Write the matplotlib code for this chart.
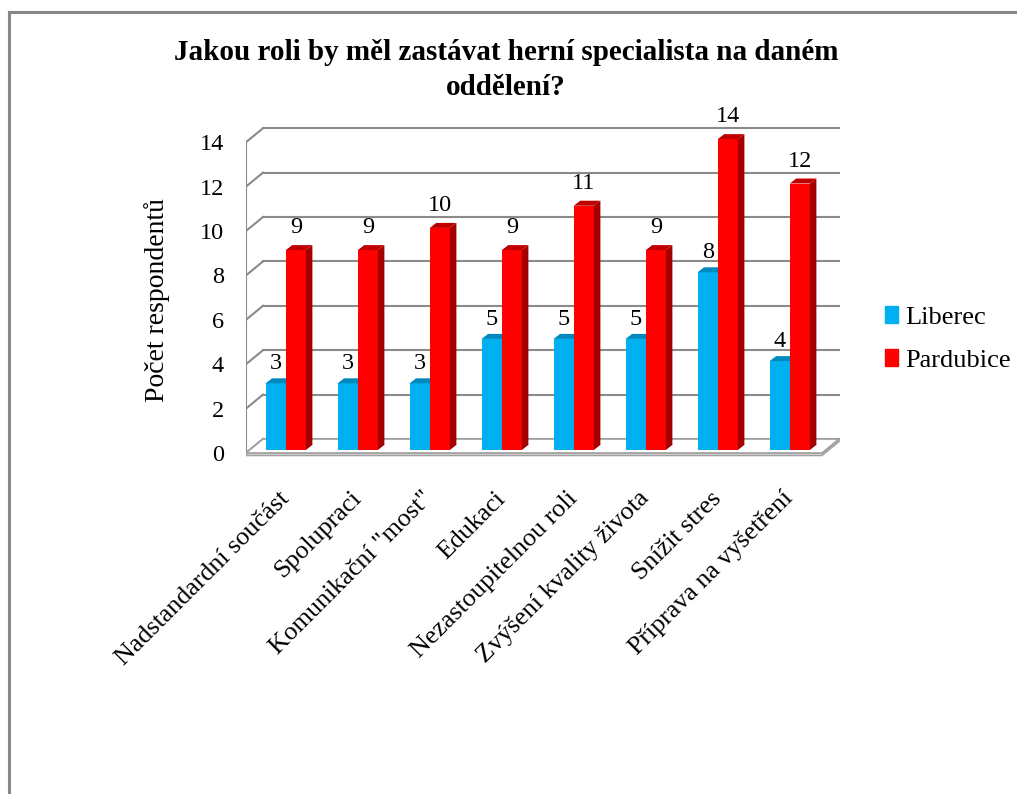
import numpy as np
import matplotlib.pyplot as plt
from matplotlib.patches import Polygon, Patch
from matplotlib.lines import Line2D

categories = ['Nadstandardní součást', 'Spolupraci', 'Komunikační "most"', 'Edukaci',
              'Nezastoupitelnou roli', 'Zvýšení kvality života', 'Snížit stres',
              'Příprava na vyšetření']
liberec = [3, 3, 3, 5, 5, 5, 8, 4]
pardubice = [9, 9, 10, 9, 11, 9, 14, 12]
yticks = [0, 2, 4, 6, 8, 10, 12, 14]

plt.rcParams['font.family'] = ['Liberation Serif', 'DejaVu Serif']

W, H = 1017, 794
fig = plt.figure(figsize=(W / 100, H / 100), dpi=100)

# front plane of the 3d box in pixels
x0_px, unit_x = 246, 72.0
y0_px, unit_y = 453, 22.2
xlim = (0, 8.6)
ylim = (-0.4, 15.4)
ax = fig.add_axes([x0_px / W,
                   (H - (y0_px - ylim[0] * unit_y)) / H,
                   (xlim[1] - xlim[0]) * unit_x / W,
                   (ylim[1] - ylim[0]) * unit_y / H])
ax.set_xlim(xlim)
ax.set_ylim(ylim)
ax.patch.set_visible(False)
for s in ax.spines.values():
    s.set_visible(False)

# depth of the walls and of the bars (data units)
DX, DY = 17 / unit_x, 14 / unit_y
bdx, bdy = 6.5 / unit_x, 5 / unit_y
f = 0.22
n = len(categories)
grid_c = '#8a8a8a'

# back wall gridlines + left wall
for v in yticks:
    ax.plot([0, DX], [v, v + DY], color=grid_c, lw=1.5, zorder=1)
    ax.plot([DX, n + DX], [v + DY, v + DY], color=grid_c, lw=1.5, zorder=1)
ax.plot([0, 0], [0, yticks[-1]], color=grid_c, lw=1.5, zorder=1)

# floor slab
t = 0.11
ax.add_patch(Polygon([(0, -t), (n, -t), (n + DX, DY - t), (n + DX, DY), (n, 0), (0, 0)],
                     closed=True, fc='#ebebeb', ec='#a0a0a0', lw=1.2, zorder=1.5))
ax.add_patch(Polygon([(0, 0), (n, 0), (n + DX, DY), (DX, DY)],
                     closed=True, fc='white', ec='#a0a0a0', lw=1.2, zorder=1.6))

blue, blue_top = '#00B0F0', '#0089BC'
red, red_side, red_top = '#FF0000', '#A50000', '#C00000'

w = 0.28
centers = np.arange(n) + 0.5 + f * DX
base = f * DY

# Liberec bars
ax.bar(centers - w, liberec, width=w, bottom=base, align='edge', color=blue, zorder=3)
for c, v in zip(centers, liberec):
    x, top = c - w, v + base
    ax.add_patch(Polygon([(x, top), (x + w, top), (x + w + bdx, top + bdy), (x + bdx, top + bdy)],
                         closed=True, fc=blue_top, ec='none', zorder=3.1))

# Pardubice bars
ax.bar(centers, pardubice, width=w, bottom=base, align='edge', color=red, zorder=3.2)
for c, v in zip(centers, pardubice):
    x, top = c, v + base
    ax.add_patch(Polygon([(x + w, base), (x + w + bdx, base + bdy), (x + w + bdx, top + bdy), (x + w, top)],
                         closed=True, fc=red_side, ec='none', zorder=3.3))
    ax.add_patch(Polygon([(x, top), (x + w, top), (x + w + bdx, top + bdy), (x + bdx, top + bdy)],
                         closed=True, fc=red_top, ec='none', zorder=3.3))

# value labels
for c, v in zip(centers, liberec):
    ax.annotate(str(v), (c - w / 2, v + base + bdy), xytext=(0, 3), textcoords='offset points',
                ha='center', va='bottom', fontsize=17.5, zorder=5)
for c, v in zip(centers, pardubice):
    ax.annotate(str(v), (c + w / 2, v + base + bdy), xytext=(0, 5), textcoords='offset points',
                ha='center', va='bottom', fontsize=17.5, zorder=5)

ax.set_yticks(yticks)
ax.set_yticklabels([str(v) for v in yticks], fontsize=17.5)
ax.tick_params(axis='y', length=0, pad=16)
ax.set_xticks(centers)
ax.set_xticklabels(categories, rotation=45, ha='right', va='center', rotation_mode='anchor',
                   fontsize=18.7)
ax.tick_params(axis='x', length=0, pad=24)

fig.text(506 / W, 1 - 70 / H, 'Jakou roli by měl zastávat herní specialista na daném\noddělení?',
         ha='center', va='center', fontsize=21, fontweight='bold', linespacing=1.4)
fig.text(157 / W, 1 - 300 / H, 'Počet respondentů', rotation=90, ha='center', va='center', fontsize=20)

fig.legend(handles=[Patch(color=blue, label='Liberec'), Patch(color=red, label='Pardubice')],
           loc='center left', bbox_to_anchor=(885 / W, 1 - 339 / H), frameon=False,
           borderpad=0, borderaxespad=0,
           handlelength=0.5, handleheight=0.6, handletextpad=0.25, labelspacing=0.75, fontsize=19)

# chart frame (top and left edges)
fig.add_artist(Line2D([8.5 / W, 1], [1 - 11.5 / H] * 2, transform=fig.transFigure, color='#888888', lw=2.2))
fig.add_artist(Line2D([8.5 / W] * 2, [0, 1 - 11.5 / H], transform=fig.transFigure, color='#888888', lw=2.2))

fig.savefig('out.png', dpi=100)
